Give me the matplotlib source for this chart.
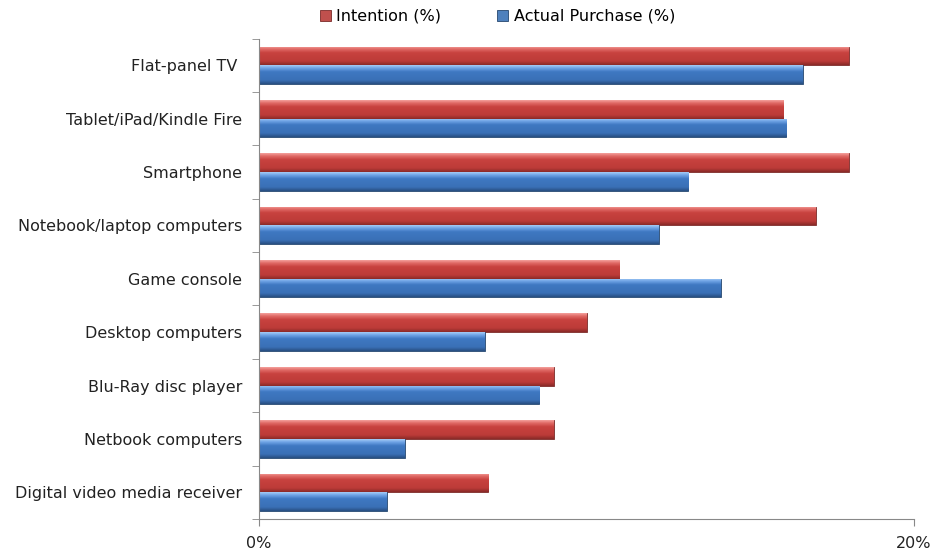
import numpy as np
from matplotlib import pyplot as plt
from matplotlib.colors import LinearSegmentedColormap

categories = ['Flat-panel TV ', 'Tablet/iPad/Kindle Fire', 'Smartphone',
              'Notebook/laptop computers', 'Game console', 'Desktop computers',
              'Blu-Ray disc player', 'Netbook computers', 'Digital video media receiver']
intention = [18.0, 16.0, 18.0, 17.0, 11.0, 10.0, 9.0, 9.0, 7.0]
actual = [16.6, 16.1, 13.1, 12.2, 14.1, 6.9, 8.55, 4.45, 3.9]
xticks = [0, 20]
xticklabels = ['0%', '20%']

red_cmap = LinearSegmentedColormap.from_list(
    'red_bevel', [(0, '#F4A09C'), (0.15, '#E06A66'), (0.35, '#C8423F'),
                  (0.8, '#BC3B38'), (1, '#8A2A28')])
blue_cmap = LinearSegmentedColormap.from_list(
    'blue_bevel', [(0, '#A6CBF5'), (0.15, '#6FA4E6'), (0.35, '#3F78C2'),
                   (0.8, '#3A70B6'), (1, '#284F82')])

fig = plt.figure(figsize=(9.44, 5.5), dpi=100)
ax = fig.add_axes([0.2744, 0.0564, 0.6939, 0.8736])

n = len(categories)
y = np.arange(n)
h = 0.35

bars_r = ax.barh(y - h / 2, intention, height=h, color='#C0504D', edgecolor='#7A2A28',
                 linewidth=0.6, label='Intention (%)')
bars_b = ax.barh(y + h / 2, actual, height=h, color='#4F81BD', edgecolor='#26476F',
                 linewidth=0.6, label='Actual Purchase (%)')

grad = np.linspace(0, 1, 64).reshape(-1, 1)
for bars, cmap in [(bars_r, red_cmap), (bars_b, blue_cmap)]:
    for b in bars:
        x0, y0, w, bh = b.get_x(), b.get_y(), b.get_width(), b.get_height()
        im = ax.imshow(grad, cmap=cmap, aspect='auto', origin='upper',
                       extent=(x0, x0 + w, y0 + bh, y0), zorder=2.5,
                       interpolation='bilinear')
        im.set_clip_path(b)

ax.set_ylim(n - 0.5, -0.5)
ax.set_xlim(0, 20)
ax.set_yticks(y)
ax.set_yticklabels(categories, fontsize=11.5, color='#222222')
ax.set_yticks(np.arange(-0.5, n, 1), minor=True)
ax.tick_params(axis='y', which='major', length=0, pad=12)
ax.tick_params(axis='y', which='minor', length=5, color='#888888')
ax.set_xticks(xticks)
ax.set_xticklabels(xticklabels, fontsize=11.5, color='#222222')
ax.tick_params(axis='x', length=5, color='#888888', pad=7)

for s in ['top', 'right']:
    ax.spines[s].set_visible(False)
for s in ['left', 'bottom']:
    ax.spines[s].set_color('#888888')

fig.legend([bars_r, bars_b], ['Intention (%)', 'Actual Purchase (%)'],
           loc='upper center', bbox_to_anchor=(0.527, 1.01),
           ncol=2, frameon=False, fontsize=11.5, handlelength=0.7, handleheight=0.7,
           handletextpad=0.35, columnspacing=3.5)

fig.savefig('out.png', dpi=100)
